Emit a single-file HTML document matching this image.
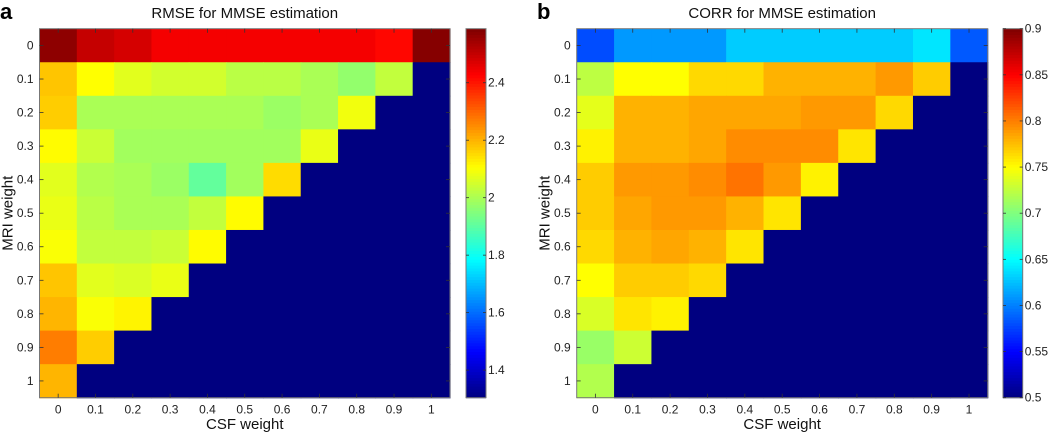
<!DOCTYPE html>
<html><head><meta charset="utf-8">
<style>
html,body{margin:0;padding:0;background:#fff;}
svg{display:block;font-family:"Liberation Sans",Arial,sans-serif;}
</style></head>
<body>
<svg id="fig" width="1050" height="436" viewBox="0 0 1050 436"></svg>
<script>
const categories = ['0','0.1','0.2','0.3','0.4','0.5','0.6','0.7','0.8','0.9','1'];
const rmseValues = [
 [2.57,2.50,2.48,2.44,2.44,2.44,2.44,2.44,2.44,2.42,2.58],
 [2.18,2.107,2.07,2.05,2.05,2.02,2.02,2.0,1.97,2.03,null],
 [2.17,2.0,2.0,2.0,2.0,2.0,1.98,2.0,2.09,null,null],
 [2.11,2.04,1.99,1.99,1.99,1.99,1.99,2.08,null,null,null],
 [2.07,2.01,2.0,1.98,1.91,1.99,2.15,null,null,null,null],
 [2.08,2.02,2.0,2.0,2.03,2.11,null,null,null,null,null],
 [2.10,2.03,2.03,2.04,2.11,null,null,null,null,null,null],
 [2.18,2.07,2.06,2.08,null,null,null,null,null,null,null],
 [2.20,2.10,2.12,null,null,null,null,null,null,null,null],
 [2.27,2.17,null,null,null,null,null,null,null,null,null],
 [2.20,null,null,null,null,null,null,null,null,null,null]
];
const corrValues = [
 [0.58,0.61,0.61,0.61,0.63,0.63,0.63,0.63,0.63,0.64,0.585],
 [0.724,0.75,0.75,0.765,0.765,0.78,0.78,0.78,0.79,0.77,null],
 [0.74,0.78,0.78,0.785,0.785,0.785,0.79,0.79,0.765,null,null],
 [0.755,0.78,0.78,0.785,0.795,0.795,0.795,0.76,null,null,null],
 [0.77,0.79,0.79,0.795,0.805,0.79,0.755,null,null,null,null],
 [0.77,0.785,0.79,0.79,0.78,0.76,null,null,null,null,null],
 [0.765,0.78,0.785,0.78,0.76,null,null,null,null,null,null],
 [0.75,0.77,0.77,0.765,null,null,null,null,null,null,null],
 [0.735,0.76,0.755,null,null,null,null,null,null,null,null],
 [0.71,0.73,null,null,null,null,null,null,null,null,null],
 [0.72,null,null,null,null,null,null,null,null,null,null]
];
const rmseClim = [1.304, 2.588];
const corrClim = [0.5, 0.9];
const rmseTicks = ['1.4','1.6','1.8','2','2.2','2.4'];
const corrTicks = ['0.5','0.55','0.6','0.65','0.7','0.75','0.8','0.85','0.9'];

const NS='http://www.w3.org/2000/svg';
const svg=document.getElementById('fig');
function el(tag,attrs,parent){const e=document.createElementNS(NS,tag);for(const k in attrs)e.setAttribute(k,attrs[k]);(parent||svg).appendChild(e);return e;}
function jet(t){t=Math.max(0,Math.min(1,t));
 const c=v=>Math.round(255*Math.max(0,Math.min(1,v)));
 return `rgb(${c(1.5-Math.abs(4*t-3))},${c(1.5-Math.abs(4*t-2))},${c(1.5-Math.abs(4*t-1))})`;}

function panel(letter,title,values,clim,ticks,ax){
 const g=el('g',{});
 
 
 const n=categories.length;
 const cw=(ax.x1-ax.x0)/n, ch=(ax.y1-ax.y0)/n;
 const xs=i=>ax.x0+i*cw, ys=j=>ax.y0+j*ch;
 const tn=v=>(v-clim[0])/(clim[1]-clim[0]);
 values.forEach((row,j)=>row.forEach((v,i)=>{
  const r=el('rect',{x:xs(i),y:ys(j),width:cw+0.6,height:ch+0.6,fill:v===null?jet(0):jet(tn(v))},g);
  
  
 }));
 const frame=el('rect',{x:ax.x0,y:ax.y0,width:ax.x1-ax.x0,height:ax.y1-ax.y0,fill:'none',stroke:'#777','stroke-width':1},g);
 
 
 categories.forEach((c,i)=>{
  const cx=xs(i)+cw/2, cy=ys(i)+ch/2;
  el('line',{x1:cx,y1:ax.y0,x2:cx,y2:ax.y0+4,stroke:'#333','stroke-width':0.8},g);
  el('line',{x1:cx,y1:ax.y1,x2:cx,y2:ax.y1-4,stroke:'#333','stroke-width':0.8},g);
  el('line',{x1:ax.x0,y1:cy,x2:ax.x0+4,y2:cy,stroke:'#333','stroke-width':0.8},g);
  el('line',{x1:ax.x1,y1:cy,x2:ax.x1-4,y2:cy,stroke:'#333','stroke-width':0.8},g);
  const xt=el('text',{x:cx,y:ax.y1+16,'text-anchor':'middle','font-size':12,fill:'#222'},g);xt.textContent=c;
  
  
  const yt=el('text',{x:ax.x0-6,y:cy+4,'text-anchor':'end','font-size':12,fill:'#222'},g);yt.textContent=c;
  
  
 });
 const lt=el('text',{x:ax.lx,y:19,'font-size':22,'font-weight':'bold',fill:'#000'},g);lt.textContent=letter;
 
 
 const tt=el('text',{x:(ax.x0+ax.x1)/2,y:18,'text-anchor':'middle','font-size':15,fill:'#111'},g);tt.textContent=title;
 
 
 const xl=el('text',{x:(ax.x0+ax.x1)/2,y:429,'text-anchor':'middle','font-size':15,fill:'#111'},g);xl.textContent='CSF weight';
 
 
 const ylx=ax.x0-27, yly=(ax.y0+ax.y1)/2;
 const yl=el('text',{x:ylx,y:yly,'text-anchor':'middle','font-size':15,fill:'#111',transform:`rotate(-90 ${ylx} ${yly})`},g);yl.textContent='MRI weight';
 
 
 const cb=el('g',{},g);
 
 
 const steps=128, H=ax.y1-ax.y0;
 for(let k=0;k<steps;k++){
  el('rect',{x:ax.cx0,y:ax.y1-(k+1)*H/steps,width:ax.cx1-ax.cx0,height:H/steps+0.5,fill:jet((k+0.5)/steps)},cb);
 }
 el('rect',{x:ax.cx0,y:ax.y0,width:ax.cx1-ax.cx0,height:H,fill:'none',stroke:'#777','stroke-width':1},cb);
 const cy=v=>ax.y1-tn(v)*H;
 ticks.forEach(tl=>{
  const y=cy(parseFloat(tl));
  el('line',{x1:ax.cx1,y1:y,x2:ax.cx1-3,y2:y,stroke:'#333','stroke-width':0.8},cb);
  el('line',{x1:ax.cx0,y1:y,x2:ax.cx0+3,y2:y,stroke:'#333','stroke-width':0.8},cb);
  const t=el('text',{x:ax.cx1+2,y:y+4,'font-size':12,fill:'#222'},cb);t.textContent=tl;
  
  
 });
}
panel('a','RMSE for MMSE estimation',rmseValues,rmseClim,rmseTicks,{x0:39.5,x1:450,y0:28.7,y1:397.7,cx0:466,cx1:486,lx:0});
panel('b','CORR for MMSE estimation',corrValues,corrClim,corrTicks,{x0:576.7,x1:987.7,y0:28.7,y1:397.7,cx0:1003,cx1:1022.7,lx:537});
</script>
</body></html>
